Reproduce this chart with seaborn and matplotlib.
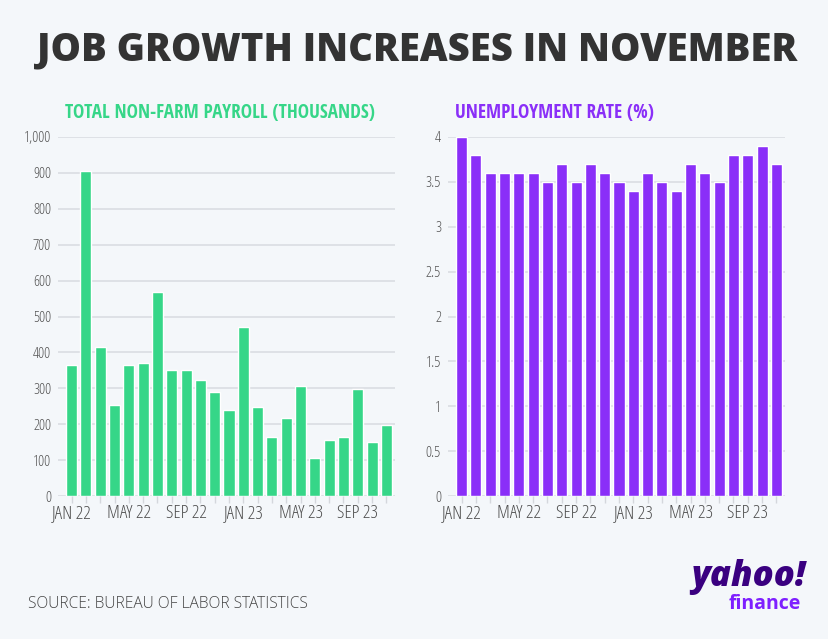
import matplotlib
matplotlib.use("Agg")
import matplotlib.pyplot as plt
import seaborn as sns
import pandas as pd

months = ["JAN 22","FEB 22","MAR 22","APR 22","MAY 22","JUN 22","JUL 22","AUG 22","SEP 22","OCT 22","NOV 22","DEC 22",
          "JAN 23","FEB 23","MAR 23","APR 23","MAY 23","JUN 23","JUL 23","AUG 23","SEP 23","OCT 23","NOV 23"]
payroll = [364, 904, 414, 254, 364, 370, 568, 352, 350, 324, 290, 239,
           472, 248, 165, 217, 306, 105, 157, 165, 297, 150, 199]
unemployment = [4.0, 3.8, 3.6, 3.6, 3.6, 3.6, 3.5, 3.7, 3.5, 3.7, 3.6, 3.5,
                3.4, 3.6, 3.5, 3.4, 3.7, 3.6, 3.5, 3.8, 3.8, 3.9, 3.7]
payroll_ticks = [0, 100, 200, 300, 400, 500, 600, 700, 800, 900, 1000]
payroll_ticklabels = ["0", "100", "200", "300", "400", "500", "600", "700", "800", "900", "1,000"]
unemp_ticks = [0, 0.5, 1, 1.5, 2, 2.5, 3, 3.5, 4]
unemp_ticklabels = ["0", "0.5", "1", "1.5", "2", "2.5", "3", "3.5", "4"]

BG = "#f4f7fa"
GREEN = "#36d688"
PURPLE = "#8a2ff8"
COND = ["Open Sans", "DejaVu Sans"]

sns.set_theme(style="white")
plt.rcParams["font.family"] = COND

df = pd.DataFrame({"month": months, "payroll": payroll, "unemployment": unemployment})

fig = plt.figure(figsize=(8.29, 6.39), dpi=100, facecolor=BG)
W, H = 829, 639

def px_axes(x0, x1, ytop, ybot):
    return fig.add_axes([x0 / W, (H - ybot) / H, (x1 - x0) / W, (ybot - ytop) / H])

ax1 = px_axes(58, 395, 137, 496)
ax2 = px_axes(448, 785, 137, 496)

for ax, col, color, ticks, tlabels, top in [
    (ax1, "payroll", GREEN, payroll_ticks, payroll_ticklabels, 1000),
    (ax2, "unemployment", PURPLE, unemp_ticks, unemp_ticklabels, 4),
]:
    ax.set_facecolor(BG)
    sns.barplot(data=df, x="month", y=col, color=color, width=0.77,
                saturation=1, ax=ax, zorder=3)
    ax.set_ylim(0, top)
    ax.set_xlim(-0.95, 22.6)
    ax.set_yticks(ticks)
    ax.set_yticklabels(tlabels)
    for t in ax.get_yticklabels():
        t.set_fontsize(11)
        t.set_color("#555555")
        t.set_fontstretch("condensed")
        t.set_fontweight("light")
    ax.set_xticks(range(len(months)))
    ax.set_xticklabels([m if i % 4 == 0 else "" for i, m in enumerate(months)])
    for t in ax.get_xticklabels():
        t.set_fontsize(13.5)
        t.set_color("#4d4d4d")
        t.set_fontstretch("condensed")
        t.set_fontweight("light")
    ax.tick_params(axis="x", length=5, width=1, color="#d4d7dc", pad=1, bottom=True)
    ax.tick_params(axis="y", length=0, pad=5)
    ax.grid(axis="y", color="#dadde2", linewidth=1.2, zorder=0)
    ax.set_axisbelow(True)
    for s in ["top", "right", "left", "bottom"]:
        ax.spines[s].set_visible(False)
    ax.set_xlabel("")
    ax.set_ylabel("")

fig.text(417 / W, 1 - 50 / H, "JOB GROWTH INCREASES IN NOVEMBER", ha="center", va="center",
         fontsize=27.5, fontweight="heavy", color="#333333",
         family=["Open Sans", "DejaVu Sans"])
fig.text(65 / W, 1 - 113 / H, "TOTAL NON-FARM PAYROLL (THOUSANDS)", ha="left", va="center",
         fontsize=13.8, fontweight="bold", fontstretch="condensed", color=GREEN,
         family=["Open Sans Condensed", "Open Sans", "DejaVu Sans"])
fig.text(455 / W, 1 - 113 / H, "UNEMPLOYMENT RATE (%)", ha="left", va="center",
         fontsize=13.8, fontweight="bold", fontstretch="condensed", color=PURPLE,
         family=["Open Sans Condensed", "Open Sans", "DejaVu Sans"])
fig.text(28 / W, 1 - 604 / H, "SOURCE: BUREAU OF LABOR STATISTICS", ha="left", va="center",
         fontsize=11.2, fontweight="light", color="#444444", family=["Open Sans", "DejaVu Sans"])
fig.text(806 / W, 1 - 577 / H, "yahoo!", ha="right", va="center", fontsize=25,
         fontweight=800, color="#3a0080", family=["Open Sans", "DejaVu Sans"], style="italic")
fig.text(801 / W, 1 - 604 / H, "finance", ha="right", va="center", fontsize=14,
         fontweight="bold", color="#7e1fff", family=["Open Sans", "DejaVu Sans"])

fig.savefig("out.png", dpi=100, facecolor=BG)
